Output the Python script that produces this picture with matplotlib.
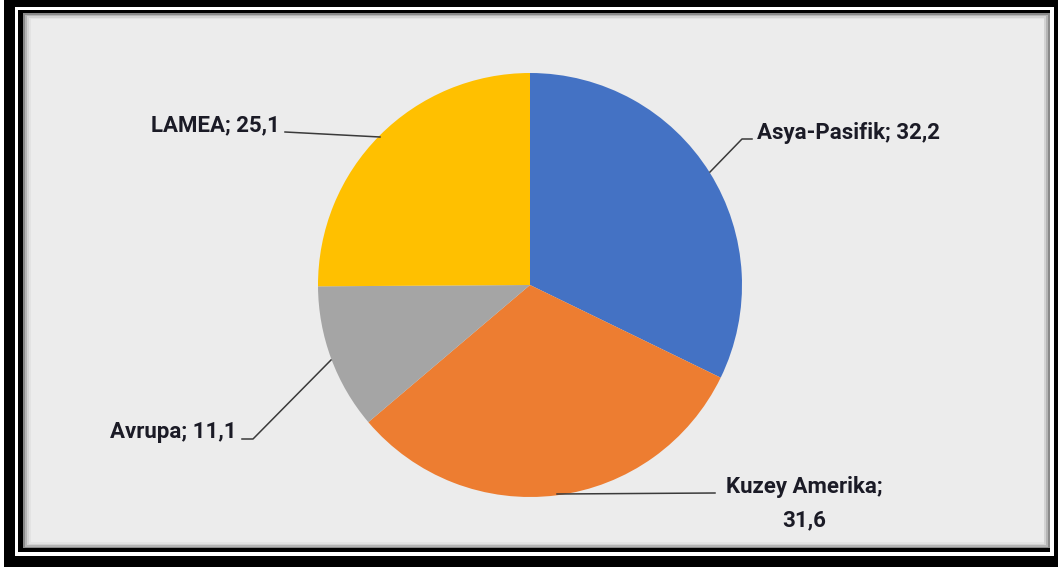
import matplotlib
matplotlib.use("Agg")
import matplotlib.pyplot as plt
from matplotlib.patches import Rectangle
import numpy as np

regions = ["Asya-Pasifik", "Kuzey Amerika", "Avrupa", "LAMEA"]
values = [32.2, 31.6, 11.1, 25.1]
colors = ["#4472C4", "#ED7D31", "#A5A5A5", "#FFC000"]

W, H = 1062, 571
fig = plt.figure(figsize=(W / 100, H / 100), dpi=100)
fig.patch.set_facecolor("white")
ax = fig.add_axes([0, 0, 1, 1])

def py(y):
    return H - y

# frame: outer thick black, white gap, thin black, gray panel
ax.add_patch(Rectangle((4, py(567)), 1058 - 4, 567 - 0, facecolor="black", edgecolor="none", zorder=0))
ax.add_patch(Rectangle((15, py(556)), 1054 - 15, 556 - 7, facecolor="white", edgecolor="none", zorder=0))
ax.add_patch(Rectangle((18, py(552)), 1054 - 18 - 4, 552 - 10, facecolor="black", edgecolor="none", zorder=0))
# soft shadow
for i, c in enumerate(["#8a8a8a", "#b5b5b5", "#d3d3d3", "#e3e3e3"]):
    ax.add_patch(Rectangle((23 + i * 2, py(548 - i * 1.5)), 1050 - 23 - i * 4, 548 - 13 - i * 3,
                           facecolor=c, edgecolor="none", zorder=0))
ax.add_patch(Rectangle((31, py(542)), 1050 - 31 - 6, 542 - 19, facecolor="#ececec", edgecolor="none", zorder=0))

cx, cy, r = 530, py(285), 212
wedges, _ = ax.pie(values, colors=colors, startangle=90, counterclock=False,
                   center=(cx, cy), radius=r, frame=True,
                   wedgeprops=dict(linewidth=0))
for w in wedges:
    w.set_zorder(2)

ax.set_xlim(0, W)
ax.set_ylim(0, H)
ax.set_aspect("equal")
ax.axis("off")

def fmt(v):
    return f"{v:.1f}".replace(".", ",")

lc = "#3a3a3a"
font = dict(fontsize=16, fontweight="bold", color="#1b1b26",
            family=["Roboto", "DejaVu Sans"])

# Asya-Pasifik
ax.plot([710, 742, 752], [py(172), py(139), py(139)], color=lc, lw=1.1, zorder=3)
ax.text(757, py(133), f"{regions[0]}; {fmt(values[0])}", ha="left", va="center", **font)
# Kuzey Amerika
ax.plot([557, 715], [py(494), py(493)], color=lc, lw=1.1, zorder=3)
ax.text(804, py(503.5), f"{regions[1]};\n{fmt(values[1])}", ha="center", va="center",
        multialignment="center", linespacing=1.68, **font)
# Avrupa
ax.plot([242, 253, 331], [py(439), py(439), py(360)], color=lc, lw=1.1, zorder=3)
ax.text(237, py(432), f"{regions[2]}; {fmt(values[2])}", ha="right", va="center", **font)
# LAMEA
ax.plot([285, 380], [py(132), py(137)], color=lc, lw=1.1, zorder=3)
ax.text(280, py(125), f"{regions[3]}; {fmt(values[3])}", ha="right", va="center", **font)

fig.savefig("out.png", dpi=100, facecolor="white")
